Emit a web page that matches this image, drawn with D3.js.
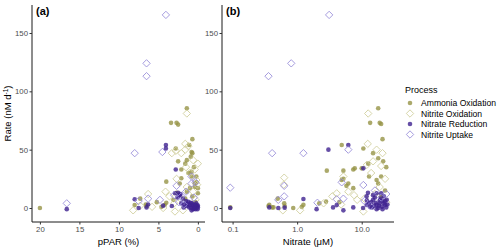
<!DOCTYPE html>
<html>
<head>
<meta charset="utf-8">
<script src="https://cdn.jsdelivr.net/npm/d3@7"></script>
<style>
  body { margin: 0; background: #fff; }
  svg { display: block; font-family: "Liberation Sans", Arial, sans-serif; }
</style>
</head>
<body>
<div id="chart"></div>
<script>
// categories
const processes = ["Ammonia Oxidation", "Nitrite Oxidation", "Nitrate Reduction", "Nitrite Uptake"];

// panel (a): [pPAR %, rate]
const ammoniaA = [[20,0],[1.4,85.5],[3.4,73],[2.7,73],[2.5,71.5],[0.7,59],[2.8,51],[1.1,54],[0.7,47],[2.5,40],[1.4,41],[1.6,38],[2.1,33],[4.0,22.6],[2.1,25.5],[0.8,27],[0.2,27],[0.2,22],[0.4,18],[1.0,17],[2.3,21],[1.4,14],[0,12.6],[7.3,8],[8.0,2.5],[6.5,1.7],[5.2,5],[4.0,4.5],[4.6,1],[3.1,7],[1.6,8],[2.7,13],[0.7,10],[0,17],[0.5,35],[1.2,30],[0.3,5],[6.6,3],[0.9,44],[0.8,31],[0.8,48],[0.4,21],[4.2,2.6]];
const nitriteOxA = [[1.4,81],[3.3,47],[2.1,47],[1.2,53],[1.6,50],[2.8,49],[4.1,14],[6.3,12],[8.2,-2],[4.4,0],[2.9,-3],[2.7,25],[0,38],[0.6,41],[0.4,33],[1.4,18],[0.3,7],[0.8,2],[1.9,-2],[7.3,2],[1.0,30],[0.2,24],[2.2,8],[3.6,10],[0.6,14],[1.5,35],[5.8,1],[3.0,4],[0.1,20],[1.6,55]];
const nitrateRedA = [[16.6,-1],[4.05,54],[4.05,51],[2.8,33],[8.0,7.5],[7.5,0],[6.5,0.5],[6.3,3],[3.3,1.7],[2.5,13],[2.3,11],[1.9,8],[1.2,5.4],[1.0,2.5],[0.7,2.5],[0.25,1],[0,0.5],[0.8,-2],[1.4,1.7],[2.1,4],[0.2,4],[2.9,12.6],[4.4,2],[0.5,0],[0.1,2],[0.4,3],[1.1,0.5],[0.6,-1],[1.7,3],[0.3,-1],[0,2],[2.6,9],[1.5,6],[0.9,4.5],[0.2,0],[0.6,1.5],[0.35,2],[0.9,0],[1.3,3.5],[0.05,-1],[0.75,4],[0.45,-0.5],[1.8,0.5],[2.4,10.5],[2.2,12]];
const nitriteUpA = [[4.05,165.5],[6.5,124],[6.5,113],[8.0,47],[4.5,48],[16.6,4],[2.7,19],[6.3,8],[7.5,6],[3.0,11],[0.8,21],[0.8,27],[2.1,10],[1.5,14],[4.8,7],[0.3,22],[1.8,3],[0.5,9],[2.4,5]];

// panel (b): [nitrate uM, rate]
const ammoniaB = [[18,85.5],[13.5,73],[19,73],[20,72],[21,59],[4.9,54],[10.6,51],[2.88,32],[5.2,32],[7.4,33],[10,34],[4.9,24],[5.8,19],[7.4,17],[17,24],[0.092,0.5],[0.36,1.7],[0.41,0.5],[0.5,8],[0.64,1.7],[1.18,1],[2.2,4],[2.8,5.5],[4.5,5],[0.37,2.7],[0.43,0.5],[0.63,4],[0.87,0],[1.25,2.7],[15,47],[18,42.6],[12.6,38],[21.5,40],[20,27],[18,21],[7.8,34],[6.2,21],[5.2,25],[23,15],[20,10],[24,35],[13,27]];
const nitriteOxB = [[12.6,81],[12.4,55],[0.63,26],[1.11,-2],[0.6,-2],[4.1,12.6],[5.2,27],[6.2,14],[7.6,11],[10.6,-3],[2.57,4],[12,37],[15,40],[17,50],[21,47],[14,30],[23,25],[19,18],[11,8],[24,5],[8.5,7],[16,12],[0.62,20],[4.8,3],[3.5,10],[20,36]];
const nitrateRedB = [[3.05,50],[6.2,54],[10.6,34],[0.092,0],[0.51,0],[0.64,0.3],[1.25,7.7],[2.0,-1],[3.6,0.5],[4.1,2.5],[5.2,-2],[7.4,0.5],[0.37,0.5],[11.9,10],[17,12.6],[20,12.6],[15,7],[19,4],[23,2.7],[17,2.7],[13.5,1],[24.4,7],[11.9,2.7],[14,5],[16,9],[18,0],[21,6],[12.5,13],[22,10],[15.5,2],[19.5,8],[13,4],[25,3],[10.5,0],[17,-1],[23,6],[14.5,0.5],[16.5,4.5],[18.5,2],[20.5,1],[22,4],[12,6.5],[15,11],[21,-1],[24,0.5],[19,6.5]];
const nitriteUpB = [[3.13,165.5],[0.81,124],[0.36,113],[0.41,47],[1.25,47],[0.092,17.4],[6.2,50],[0.63,19],[0.63,10],[0.51,7],[2.06,4.5],[4.9,22],[5.2,8],[4.1,7.5],[10.6,19.7],[13.5,1.7],[11,6],[20,9],[16,15],[24,12]];

// tick labels
const yTicks = [0, 50, 100, 150];
const xTicksA = [20, 15, 10, 5, 0];
const xTicksB = [0.1, 1, 10];
const xTickLabelsB = ["0.1", "1.0", "10.0"];

const styles = {
  "Ammonia Oxidation": { filled: true, color: "#969446", opacity: 0.8 },
  "Nitrite Oxidation": { filled: false, color: "#cfcd99", opacity: 1 },
  "Nitrate Reduction": { filled: true, color: "#3f2290", opacity: 0.8 },
  "Nitrite Uptake": { filled: false, color: "#968ad8", opacity: 1 }
};

const width = 500, height = 251;
const svg = d3.select("#chart").append("svg")
  .attr("width", width)
  .attr("height", height);

const plotTop = 5, plotBottom = 222;
const y = d3.scaleLinear().domain([-12, 174]).range([plotBottom, plotTop]);
const xA = d3.scaleLinear().domain([21, -0.9]).range([32, 205]);
const xB = d3.scaleLog().domain([Math.pow(10, -1.164), Math.pow(10, 1.5)]).range([222, 394]);

const diamond = d3.symbol().type(d3.symbolSquare).size(27);

function drawPoints(g, x, series) {
  series.forEach(([name, data]) => {
    const st = styles[name];
    if (st.filled) {
      g.selectAll(null).data(data).enter().append("circle")
        .attr("cx", d => x(d[0]))
        .attr("cy", d => y(d[1]))
        .attr("r", 2.3)
        .attr("fill", st.color)
        .attr("fill-opacity", st.opacity);
    } else {
      g.selectAll(null).data(data).enter().append("path")
        .attr("d", diamond)
        .attr("transform", d => `translate(${x(d[0])},${y(d[1])}) rotate(45)`)
        .attr("fill", "none")
        .attr("stroke", st.color)
        .attr("stroke-width", 0.8)
        .attr("stroke-opacity", st.opacity);
    }
  });
}

function drawAxes(x, ticks, labels, title, label) {
  const [x0, x1] = x.range();
  const g = svg.append("g");

  const yAxis = g.append("g")
    .attr("transform", `translate(${x0},0)`)
    .call(d3.axisLeft(y).tickValues(yTicks).tickSize(2.5).tickPadding(1.5));
  const xAxis = g.append("g")
    .attr("transform", `translate(0,${plotBottom})`)
    .call(d3.axisBottom(x).tickValues(ticks).tickSize(2.5).tickPadding(2)
      .tickFormat((d, i) => labels ? labels[i] : d));

  [yAxis, xAxis].forEach(a => {
    a.select(".domain").attr("stroke", "#1a1a1a").attr("stroke-width", 1);
    a.selectAll(".tick line").attr("stroke", "#333");
    a.selectAll(".tick text").attr("fill", "#4d4d4d").style("font-size", "7.8px");
  });
  // domain spans the whole panel
  yAxis.select(".domain").attr("d", `M0,${plotBottom}V${plotTop}`);
  xAxis.select(".domain").attr("d", `M${x0},0H${x1}`);

  g.append("text")
    .attr("x", (x0 + x1) / 2)
    .attr("y", 245)
    .attr("text-anchor", "middle")
    .style("font-size", "9.5px")
    .text(title);

  g.append("text")
    .attr("x", x0 + 4)
    .attr("y", 15)
    .style("font-size", "11px")
    .style("font-weight", "bold")
    .text(label);
}

const gA = svg.append("g");
drawPoints(gA, xA, [["Ammonia Oxidation", ammoniaA], ["Nitrite Oxidation", nitriteOxA], ["Nitrate Reduction", nitrateRedA], ["Nitrite Uptake", nitriteUpA]]);
drawAxes(xA, xTicksA, null, "pPAR (%)", "(a)");

const gB = svg.append("g");
drawPoints(gB, xB, [["Ammonia Oxidation", ammoniaB], ["Nitrite Oxidation", nitriteOxB], ["Nitrate Reduction", nitrateRedB], ["Nitrite Uptake", nitriteUpB]]);
drawAxes(xB, xTicksB, xTickLabelsB, "Nitrate (\u03bcM)", "(b)");

// y axis title
const yt = svg.append("text")
  .attr("transform", `translate(11,${(plotTop + plotBottom) / 2}) rotate(-90)`)
  .attr("text-anchor", "middle")
  .style("font-size", "9.5px");
yt.append("tspan").text("Rate (nM d");
yt.append("tspan").attr("dy", -3.5).style("font-size", "6.5px").text("-1");
yt.append("tspan").attr("dy", 3.5).text(")");

// legend
const legend = svg.append("g").attr("transform", "translate(405,0)");
legend.append("text")
  .attr("x", 0).attr("y", 93)
  .style("font-size", "9px")
  .text("Process");

processes.forEach((p, i) => {
  const st = styles[p];
  const cy = 103 + i * 10.5;
  if (st.filled) {
    legend.append("circle")
      .attr("cx", 5).attr("cy", cy).attr("r", 2.3)
      .attr("fill", st.color).attr("fill-opacity", st.opacity);
  } else {
    legend.append("path")
      .attr("d", diamond)
      .attr("transform", `translate(5,${cy}) rotate(45)`)
      .attr("fill", "none")
      .attr("stroke", st.color)
      .attr("stroke-width", 0.8);
  }
  legend.append("text")
    .attr("x", 16).attr("y", cy + 3)
    .style("font-size", "8.6px")
    .text(p);
});
</script>
</body>
</html>
